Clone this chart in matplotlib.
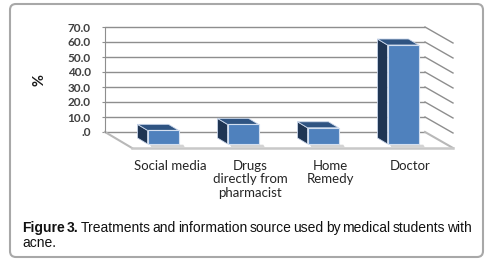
import matplotlib
matplotlib.use("Agg")
import matplotlib.pyplot as plt
from matplotlib.patches import Polygon, FancyBboxPatch
from matplotlib.transforms import ScaledTranslation

# data
categories = ["Social media", "Drugs\ndirectly from\npharmacist", "Home\nRemedy", "Doctor"]
values = [8.0, 11.5, 9.5, 58.0]
yticks = [0, 10, 20, 30, 40, 50, 60, 70]
ytick_labels = [".0", "10.0", "20.0", "30.0", "40.0", "50.0", "60.0", "70.0"]
caption_line1 = [("Figure", "bold"), ("3.", "bold"), ("Treatments", "normal"), ("and", "normal"),
                 ("information", "normal"), ("source", "normal"), ("used", "normal"), ("by", "normal"),
                 ("medical", "normal"), ("students", "normal"), ("with", "normal")]
caption_line2 = "acne."

W, H = 493, 262
grid_c = "#8e8e8e"
fig = plt.figure(figsize=(W / 100, H / 100), dpi=100)


def box(x0, y0, x1, y1):
    # pixel box (y measured from the top) -> figure fraction rect
    return [x0 / W, 1 - y1 / H, (x1 - x0) / W, (y1 - y0) / H]


# frame round the whole figure
frame = FancyBboxPatch((10 / W, 1 - 257 / H), 473 / W, 253 / H,
                       boxstyle="round,pad=0,rounding_size=0.012", mutation_aspect=W / H,
                       transform=fig.transFigure, facecolor="none", edgecolor="#a8a8a8", lw=1.5)
fig.add_artist(frame)

# back wall with gridlines
wall = fig.add_axes(box(105, 27, 425, 132))
wall.set_xlim(0, 1)
wall.set_ylim(0, 70)
wall.patch.set_visible(False)
for s in ["top", "right", "bottom"]:
    wall.spines[s].set_visible(False)
wall.spines["left"].set_color(grid_c)
wall.set_xticks([])
wall.set_yticks(yticks, ytick_labels)
wall.tick_params(axis="y", length=2.2, color=grid_c, pad=8.0, labelsize=8.5, labelcolor="#404040")
for lab in wall.get_yticklabels():
    lab.set_fontfamily(["Lato", "DejaVu Sans"])
    lab.set_fontweight("bold")
wall.hlines(yticks, 0, 1, colors=grid_c, lw=1, clip_on=False)

# side wall and floor (depth of 28 px right, 16 px down)
ddx = 28 / 320
ddy = 16 / (105 / 70)
for v in yticks[1:]:
    wall.plot([1, 1 + ddx], [v, v - ddy], color=grid_c, lw=1, clip_on=False)
wall.plot([1, 1 + ddx], [0, -ddy], color="#b8b8b8", lw=1.5, clip_on=False)
wall.plot([0, 27 / 320], [0, -ddy], color="#b8b8b8", lw=1.5, clip_on=False)
wall.plot([27 / 320, 1 + ddx], [-ddy, -ddy], color="#c8c8c8", lw=1.8, clip_on=False)

# bars on the front plane
s = 99 / 58.0
bars = fig.add_axes(box(123, 144 - 70 * s, 443, 144))
bars.set_xlim(-0.5, 3.5)
bars.set_ylim(0, 70)
bars.axis("off")

bw = 31 / 80
bdx = -10 / 80
bdy = 6 / s
xs = list(range(len(values)))
for x, v in zip(xs, values):
    x0, x1 = x - bw / 2, x + bw / 2
    side = Polygon([(x0, 0), (x0, v), (x0 + bdx, v + bdy), (x0 + bdx, bdy)],
                   closed=True, facecolor="#1f3553", edgecolor="#c9d6ea", lw=0.6, zorder=2, clip_on=False)
    top = Polygon([(x0, v), (x1, v), (x1 + bdx, v + bdy), (x0 + bdx, v + bdy)],
                  closed=True, facecolor="#2f5482", edgecolor="#c9d6ea", lw=0.6, zorder=2, clip_on=False)
    shadow = Polygon([(x0 + 0.03, -0.4), (x1 + 0.06, -0.4), (x1 + 0.08, -2.0), (x0 + 0.05, -2.0)],
                     closed=True, facecolor="#d4d4d4", edgecolor="none", zorder=1, clip_on=False)
    bars.add_patch(shadow)
    bars.add_patch(side)
    bars.add_patch(top)
bars.bar(xs, values, width=bw, color="#4f81bd", edgecolor="#d3dff0", lw=0.8, zorder=3, clip_on=False)

# category labels
lab_off = ScaledTranslation(7 / 100, -16 / 100, fig.dpi_scale_trans)
for x, c in zip(xs, categories):
    bars.text(x, 0, c, ha="center", va="top", fontsize=9.5, color="#262626",
              family=["Lato", "DejaVu Sans"], linespacing=1.13,
              transform=bars.transData + lab_off)

fig.text(40 / W, 1 - 80 / H, "%", rotation=90, ha="center", va="center",
         fontsize=10.5, fontweight="bold", family=["Lato", "DejaVu Sans"], color="#1a1a1a")

# caption, justified over the width of the line
cap_kw = dict(fontsize=10, family=["Liberation Sans", "DejaVu Sans"], color="#111111")
fig.canvas.draw()
r = fig.canvas.get_renderer()
left, right = 22, 472
texts = []
total = 0
for word, wt in caption_line1:
    t = fig.text(0, 1 - 232 / H, word, fontweight=wt, va="baseline", ha="left", **cap_kw)
    wpx = t.get_window_extent(renderer=r).width
    texts.append((t, wpx))
    total += wpx
gap = (right - left - total) / (len(texts) - 1)
xpos = left
for t, wpx in texts:
    t.set_x(xpos / W)
    xpos += wpx + gap
fig.text(left / W, 1 - 247 / H, caption_line2, va="baseline", ha="left", **cap_kw)

fig.savefig("out.png", dpi=100)
